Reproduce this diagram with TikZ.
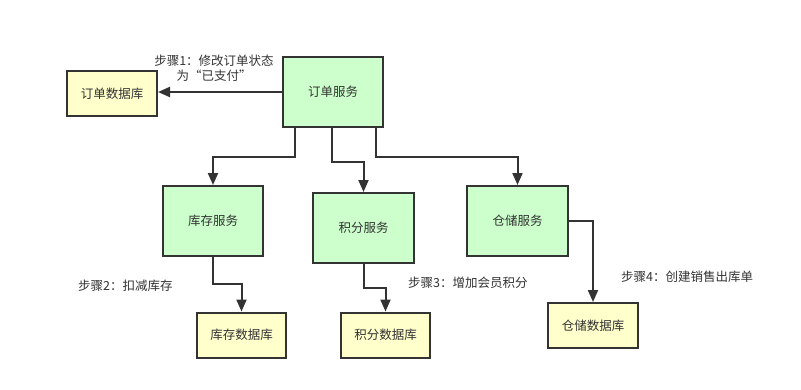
\documentclass[tikz,border=0pt]{standalone}
\usepackage{fontspec}
\setmainfont{Noto Sans CJK SC}
\usetikzlibrary{arrows.meta}
\definecolor{svcfill}{HTML}{CCFFCC}
\definecolor{dbfill}{HTML}{FFFFCC}
\definecolor{ink}{HTML}{333333}
\begin{document}
\begin{tikzpicture}[x=1pt,y=-1pt,
  every node/.style={font=\fontsize{12.5}{15}\selectfont, text=ink},
  svc/.style={draw=ink, line width=2pt, fill=svcfill, minimum width=100pt, minimum height=70pt, inner sep=0pt},
  db/.style={draw=ink, line width=2pt, fill=dbfill, minimum width=89pt, minimum height=45pt, inner sep=0pt},
  lbl/.style={inner sep=0pt},
  arr/.style={draw=ink, line width=2pt, -{Triangle[length=12pt,width=10pt]}}]
\useasboundingbox[fill=white] (0,0) rectangle (801,389);
\node[svc] (order) at (333,92) {订单服务};
\node[db, minimum width=90pt] (odb) at (112,93.5) {订单数据库};
\node[svc] (inv) at (213,221) {库存服务};
\node[svc, minimum width=101pt] (pts) at (363.5,228) {积分服务};
\node[svc, minimum width=101pt] (wh) at (517.5,221) {仓储服务};
\node[db] (invdb) at (241.5,335) {库存数据库};
\node[db] (ptsdb) at (385.5,335) {积分数据库};
\node[db, minimum width=90pt] (whdb) at (593,325.5) {仓储数据库};
\node[lbl, align=center] (l1) at (214,68.5) {步骤1：修改订单状态\\为“已支付”};
\node[lbl, anchor=west] (l2) at (78,286) {步骤2：扣减库存};
\node[lbl, anchor=west] (l3) at (408,283) {步骤3：增加会员积分};
\node[lbl, anchor=west] (l4) at (621,277) {步骤4：创建销售出库单};
\draw[arr] (order.west) -- (order.west -| odb.east);
\draw[arr] ([xshift=13pt]order.south west) -- ++(0,29) -| (inv.north);
\draw[arr] ([xshift=50pt]order.south west) -- ++(0,34) -| (pts.north);
\draw[arr] ([xshift=94pt]order.south west) -- ++(0,29) -| (wh.north);
\draw[arr] (inv.south) -- ++(0,27) -| (invdb.north);
\draw[arr] (pts.south) -- ++(0,24) -| (ptsdb.north);
\draw[arr] (wh.east) -| (whdb.north);
\end{tikzpicture}
\end{document}
